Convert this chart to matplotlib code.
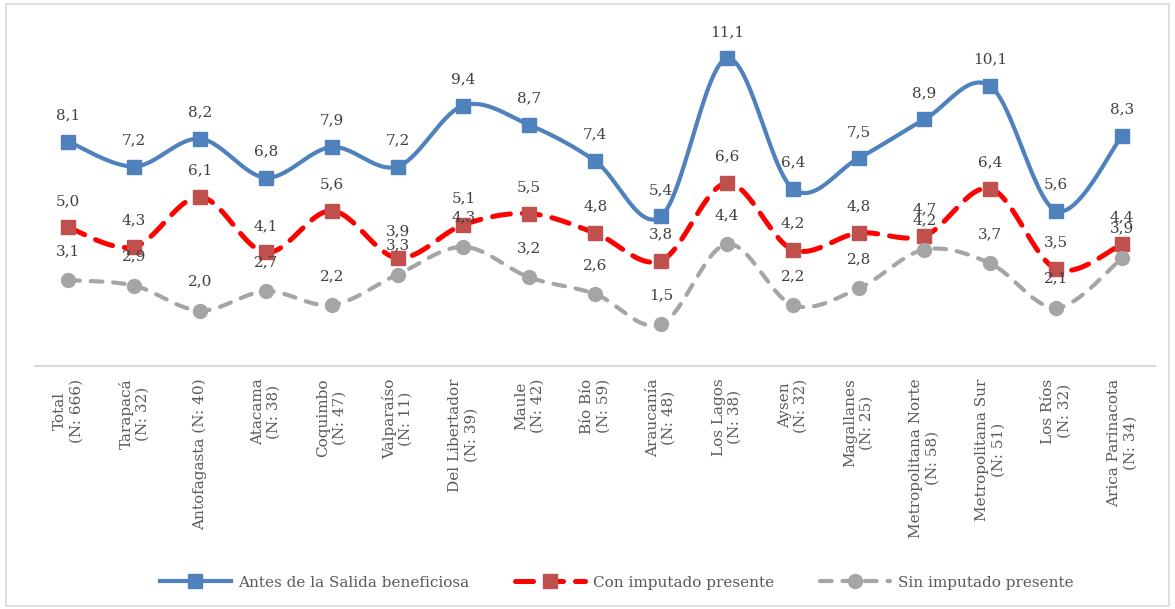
import numpy as np
import matplotlib
matplotlib.use("Agg")
from matplotlib import pyplot as plt
from matplotlib.patches import Rectangle

regiones = [
    "Total\n(N: 666)", "Tarapacá\n(N: 32)", "Antofagasta (N: 40)",
    "Atacama\n(N: 38)", "Coquimbo\n(N: 47)", "Valparaíso\n(N: 11)",
    "Del Libertador\n(N: 39)", "Maule\n(N: 42)", "Bío Bío\n(N: 59)",
    "Araucanía\n(N: 48)", "Los Lagos\n(N: 38)", "Aysen\n(N: 32)",
    "Magallanes\n(N: 25)", "Metropolitana Norte\n(N: 58)",
    "Metropolitana Sur\n(N: 51)", "Los Ríos\n(N: 32)",
    "Arica Parinacota\n(N: 34)",
]
antes_salida = [8.1, 7.2, 8.2, 6.8, 7.9, 7.2, 9.4, 8.7, 7.4, 5.4,
                11.1, 6.4, 7.5, 8.9, 10.1, 5.6, 8.3]
con_imputado = [5.0, 4.3, 6.1, 4.1, 5.6, 3.9, 5.1, 5.5, 4.8, 3.8,
                6.6, 4.2, 4.8, 4.7, 6.4, 3.5, 4.4]
sin_imputado = [3.1, 2.9, 2.0, 2.7, 2.2, 3.3, 4.3, 3.2, 2.6, 1.5,
                4.4, 2.2, 2.8, 4.2, 3.7, 2.1, 3.9]

TEXT = "#595959"
FS = 11
plt.rcParams["font.family"] = ["DejaVu Serif"]


def smooth(x, y, steps=30):
    """Excel-style smoothed line (uniform Catmull-Rom as cubic Bezier)."""
    p = np.column_stack([x, y]).astype(float)
    p = np.vstack([p[0], p, p[-1]])
    t = np.linspace(0, 1, steps)[:, None]
    out = []
    for i in range(1, len(p) - 2):
        b0 = p[i]
        b1 = p[i] + (p[i + 1] - p[i - 1]) / 6
        b2 = p[i + 1] - (p[i + 2] - p[i]) / 6
        b3 = p[i + 1]
        seg = ((1 - t) ** 3 * b0 + 3 * (1 - t) ** 2 * t * b1
               + 3 * (1 - t) * t ** 2 * b2 + t ** 3 * b3)
        out.append(seg if i == 1 else seg[1:])
    out = np.vstack(out)
    return out[:, 0], out[:, 1]


fig = plt.figure(figsize=(11.75, 6.09), dpi=100)
ax = fig.add_axes([0.030, 0.399, 0.953, 0.546])

x = np.arange(len(regiones))

series = [
    (antes_salida, "Antes de la Salida beneficiosa", "#4F81BD", "#4F81BD",
     "s", "-", 3.0, 19),
    (con_imputado, "Con imputado presente", "#FF0000", "#C0504D",
     "s", (0, (3.6, 2.4)), 3.6, 19),
    (sin_imputado, "Sin imputado presente", "#A5A5A5", "#A5A5A5",
     "o", (0, (2.8, 2.6)), 3.0, 21),
]

for vals, name, lc, mc, mk, ls, lw, off in series:
    sx, sy = smooth(x, vals)
    ax.plot(sx, sy, color=lc, lw=lw, ls=ls, dash_capstyle="round",
            solid_capstyle="round", zorder=2)
    ax.plot(x, vals, ls="none", marker=mk, ms=10, color=mc, zorder=3)
    # legend proxy
    ax.plot([], [], color=lc, lw=lw, ls=ls, dash_capstyle="round",
            marker=mk, ms=10, mfc=mc, mec=mc, label=name)

for vals, name, lc, mc, mk, ls, lw, off in series:
    for xi, v in zip(x, vals):
        ax.annotate(f"{v:.1f}".replace(".", ","), (xi, v),
                    xytext=(0, off), textcoords="offset points",
                    ha="center", va="center", fontsize=FS,
                    color="#404040", zorder=4)

ax.set_xlim(-0.5, len(regiones) - 0.5)
ax.set_ylim(0, 12)
ax.set_xticks(x)
ax.set_xticklabels(regiones, rotation=90, ha="center", va="top",
                   multialignment="center", fontsize=FS, color=TEXT)
ax.tick_params(axis="x", length=0, pad=9)
ax.set_yticks([])
for side in ["top", "left", "right"]:
    ax.spines[side].set_visible(False)
ax.spines["bottom"].set_color("#D9D9D9")
ax.spines["bottom"].set_linewidth(1.5)

leg = fig.legend(loc="center", bbox_to_anchor=(0.525, 0.043), ncol=3,
                 frameon=False, fontsize=FS, handlelength=4.6,
                 numpoints=1, columnspacing=3.0, handletextpad=0.5)
for t in leg.get_texts():
    t.set_color(TEXT)

fig.patches.append(Rectangle((0.005, 0.005), 0.99, 0.988,
                             transform=fig.transFigure, fill=False,
                             edgecolor="#D9D9D9", lw=1.2))

fig.savefig("out.png", dpi=100)
